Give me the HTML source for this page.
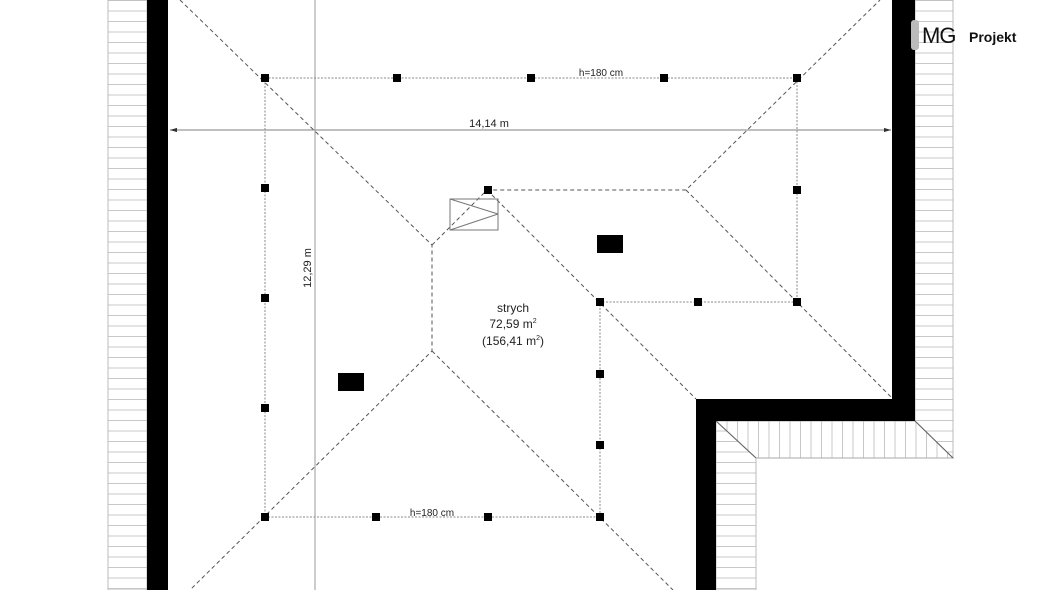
<!DOCTYPE html>
<html><head><meta charset="utf-8"><style>
html,body{margin:0;padding:0;background:#fff;width:1060px;height:590px;overflow:hidden}
svg{display:block}
text{font-family:"Liberation Sans",sans-serif;fill:#222}
</style></head><body>
<svg width="1060" height="590" viewBox="0 0 1060 590" xmlns="http://www.w3.org/2000/svg">
<defs>
<pattern id="hh" width="10" height="10.5" patternUnits="userSpaceOnUse"><rect width="10" height="10.5" fill="#fff"/><line x1="0" y1="0.5" x2="10" y2="0.5" stroke="#c8c8c8" stroke-width="1"/></pattern>
<pattern id="hv" width="10.5" height="10" patternUnits="userSpaceOnUse" x="716"><rect width="10.5" height="10" fill="#fff"/><line x1="0.5" y1="0" x2="0.5" y2="10" stroke="#c8c8c8" stroke-width="1"/></pattern>
<marker id="ar" viewBox="0 0 10 10" refX="10" refY="5" markerWidth="6" markerHeight="6" orient="auto-start-reverse"><path d="M0,2 L10,5 L0,8 z" fill="#333"/></marker>
</defs>
<rect x="108" y="0" width="39" height="590" fill="url(#hh)" stroke="#bbb" stroke-width="1"/>
<polygon points="915,0 953,0 953,458 915,421" fill="url(#hh)" stroke="#bbb"/>
<polygon points="716,421 915,421 953,458 756,458" fill="url(#hv)" stroke="#aaa"/>
<polygon points="716,421 756,458 756,590 716,590" fill="url(#hh)" stroke="#bbb"/>
<line x1="716" y1="421" x2="756" y2="458" stroke="#666"/>
<line x1="915" y1="421" x2="953" y2="458" stroke="#666"/>
<rect x="147" y="0" width="21" height="590" fill="#000"/>
<polygon points="892,0 915,0 915,421 716,421 716,590 696,590 696,399 892,399" fill="#000"/>
<line x1="315" y1="0" x2="315" y2="590" stroke="#aaa" stroke-width="1.2"/>
<line x1="170" y1="130" x2="891" y2="130" stroke="#999" stroke-width="1.2" marker-start="url(#ar)" marker-end="url(#ar)"/>
<text x="489" y="127" font-size="11" text-anchor="middle">14,14 m</text>
<text transform="translate(311,268) rotate(-90)" font-size="11" text-anchor="middle">12,29 m</text>
<g stroke="#555" stroke-width="1" stroke-dasharray="4,3" fill="none">
<polyline points="180,0 432,245 432,351 190,590"/>
<line x1="432" y1="351" x2="673" y2="590"/>
<polyline points="432,245 487,190 686,190 880,0"/>
<line x1="487" y1="190" x2="696" y2="399"/>
<line x1="686" y1="190" x2="892" y2="398"/>
</g>
<g stroke="#888" stroke-width="1" stroke-dasharray="2,1.5" fill="none">
<polyline points="265,78 797,78 797,302 600,302 600,517 265,517 265,78"/>
</g>
<g stroke="#777" fill="none">
<rect x="450" y="199" width="48" height="31"/>
<line x1="450" y1="199" x2="498" y2="214"/>
<line x1="450" y1="230" x2="498" y2="214"/>
</g>
<rect x="597" y="235" width="26" height="18" fill="#000"/>
<rect x="338" y="373" width="26" height="18" fill="#000"/>
<g fill="#000">
<rect x="261" y="74" width="8" height="8"/><rect x="393" y="74" width="8" height="8"/><rect x="527" y="74" width="8" height="8"/><rect x="660" y="74" width="8" height="8"/><rect x="793" y="74" width="8" height="8"/>
<rect x="261" y="184" width="8" height="8"/><rect x="261" y="294" width="8" height="8"/><rect x="261" y="404" width="8" height="8"/><rect x="261" y="513" width="8" height="8"/>
<rect x="372" y="513" width="8" height="8"/><rect x="484" y="513" width="8" height="8"/><rect x="596" y="513" width="8" height="8"/>
<rect x="596" y="441" width="8" height="8"/><rect x="596" y="370" width="8" height="8"/><rect x="596" y="298" width="8" height="8"/>
<rect x="694" y="298" width="8" height="8"/><rect x="793" y="298" width="8" height="8"/><rect x="793" y="186" width="8" height="8"/>
<rect x="484" y="186" width="8" height="8"/>
</g>
<text x="601" y="76" font-size="10" text-anchor="middle">h=180 cm</text>
<text x="432" y="516" font-size="10" text-anchor="middle">h=180 cm</text>
<text x="513" y="312" font-size="12" text-anchor="middle">strych</text>
<text x="513" y="328" font-size="12" text-anchor="middle">72,59 m<tspan font-size="7" dy="-5">2</tspan></text>
<text x="513" y="345" font-size="12" text-anchor="middle">(156,41 m<tspan font-size="7" dy="-5">2</tspan><tspan dy="5">)</tspan></text>
<rect x="911" y="20" width="8" height="30" rx="3" fill="#bbb"/>
<text x="922" y="43" font-size="22" style="fill:#111;letter-spacing:-1px">MG</text>
<text x="969" y="42" font-size="14" font-weight="bold" style="fill:#111">Projekt</text>
</svg>
</body></html>
